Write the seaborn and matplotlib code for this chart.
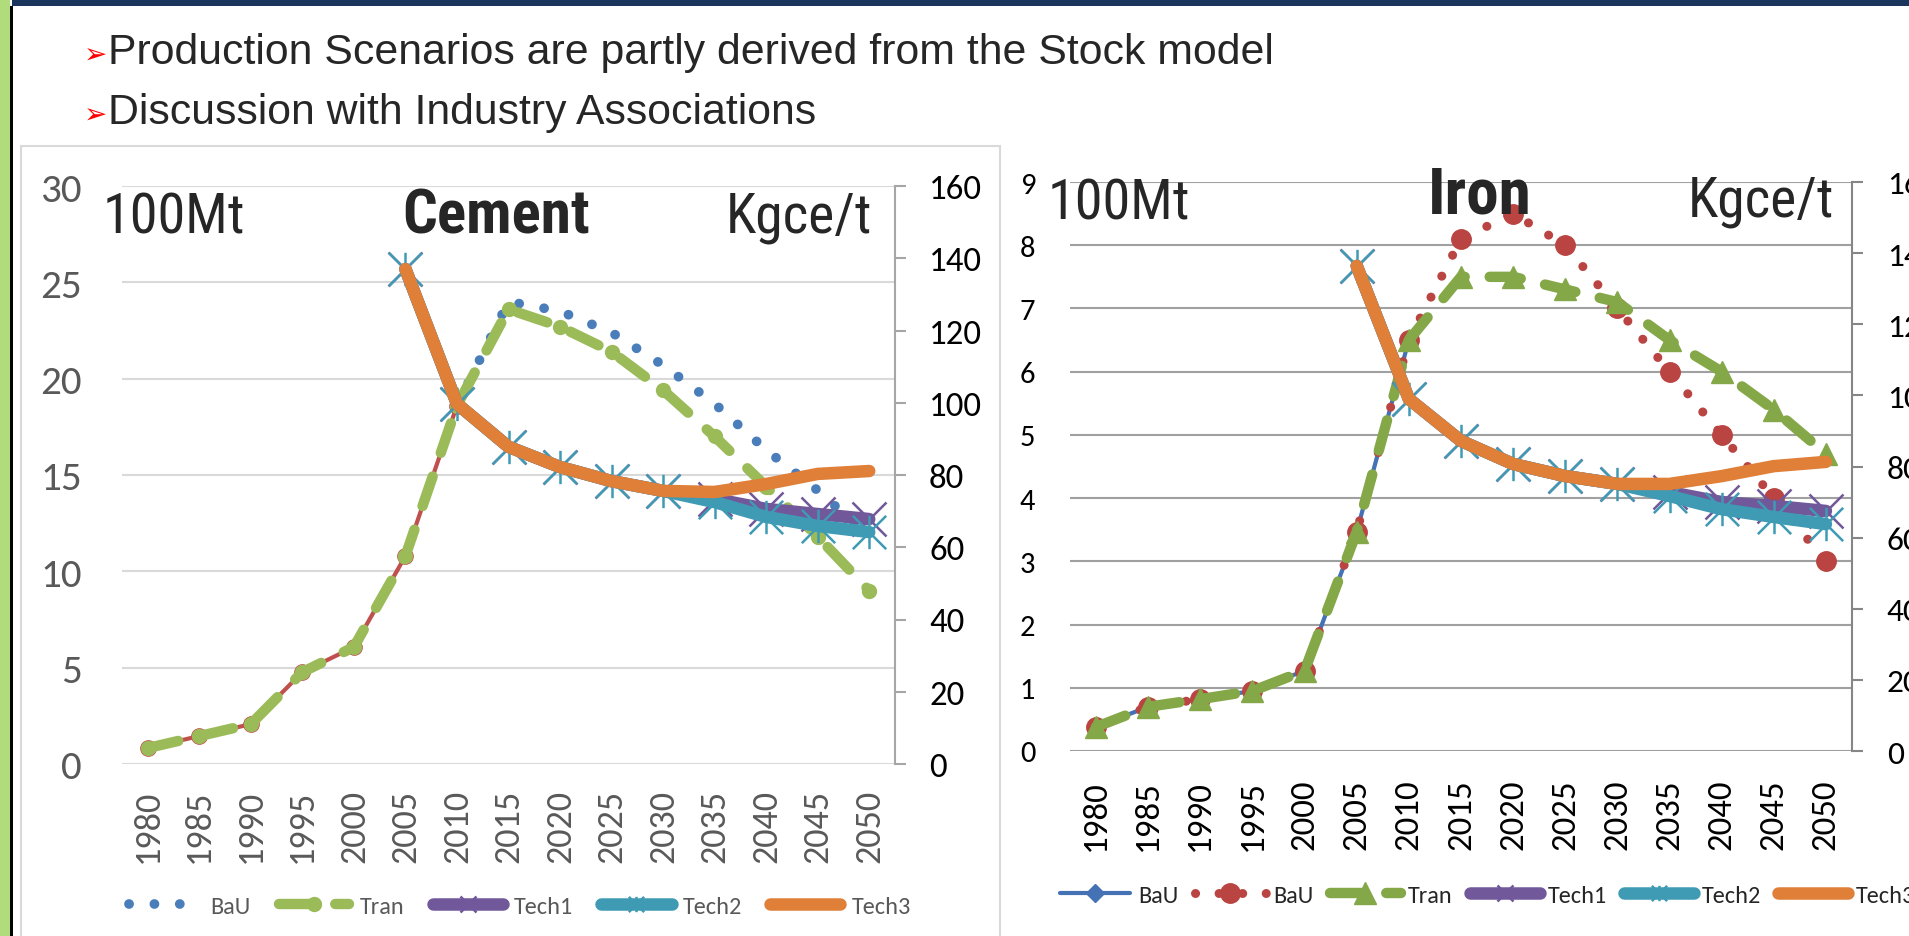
import numpy as np
import matplotlib.pyplot as plt
import seaborn as sns
from matplotlib.patches import Rectangle
from matplotlib.path import Path

# ---------- data ----------
years = [1980, 1985, 1990, 1995, 2000, 2005, 2010, 2015, 2020, 2025, 2030, 2035, 2040, 2045, 2050]
nan = np.nan

# Cement production (100Mt)
cement_hist = [0.83, 1.45, 2.07, 4.77, 6.07, 10.8, 18.6, nan, nan, nan, nan, nan, nan, nan, nan]
cement_bau = [nan, nan, nan, nan, nan, nan, 18.6, 24.0, 23.5, 22.4, 20.7, 18.7, 16.3, 14.2, 11.8]
cement_tran = [0.83, 1.45, 2.07, 4.77, 6.07, 10.8, 18.6, 23.6, 22.7, 21.4, 19.4, 17.0, 14.4, 11.8, 9.0]
# Cement energy intensity (Kgce/t)
cement_tech1 = [nan] * 5 + [137, 99.7, 87.8, 82.2, 78.3, 75.6, 73.4, 70.6, 69.2, 67.8]
cement_tech2 = [nan] * 5 + [137, 99.7, 87.8, 82.2, 78.3, 75.6, 72.5, 68.4, 65.9, 64.2]
cement_tech3 = [nan] * 5 + [137, 99.7, 87.8, 82.2, 78.3, 75.6, 75.3, 77.5, 80.3, 81.1]

# Iron production (100Mt)
iron_hist = [0.38, 0.70, 0.82, 0.95, 1.27, 3.47, 6.5, nan, nan, nan, nan, nan, nan, nan, nan]
iron_bau = [0.38, 0.70, 0.82, 0.95, 1.27, 3.47, 6.5, 8.1, 8.5, 8.0, 7.0, 6.0, 5.0, 4.0, 3.0]
iron_tran = [0.38, 0.70, 0.82, 0.95, 1.27, 3.47, 6.5, 7.5, 7.5, 7.3, 7.1, 6.5, 6.0, 5.4, 4.7]
# Iron energy intensity (Kgce/t)
iron_tech1 = [nan] * 5 + [136.4, 99.0, 87.2, 80.7, 77.3, 75.1, 72.8, 70.0, 68.9, 67.5]
iron_tech2 = [nan] * 5 + [136.4, 99.0, 87.2, 80.7, 77.3, 75.1, 71.7, 68.0, 65.8, 63.8]
iron_tech3 = [nan] * 5 + [136.4, 99.0, 87.2, 80.7, 77.3, 75.1, 75.1, 77.3, 80.1, 81.3]

bullets = ["Production Scenarios are partly derived from the Stock model",
           "Discussion with Industry Associations"]

# ---------- style ----------
sns.set_theme(style="white")
plt.rcParams["font.family"] = ["Carlito", "DejaVu Sans"]
HEAD = ["Roboto Condensed", "DejaVu Sans"]

BLUE, GREEN, RED = "#4a7ebb", "#9bbb59", "#c0504d"
PURPLE, TEAL, ORANGE = "#71589a", "#3f9ab4", "#e07f38"
IBLUE, IRED, IGREEN = "#4472b4", "#b94441", "#84a848"

# Excel-like "star" marker: an x with a vertical bar
star = Path([(-1, -1), (1, 1), (-1, 1), (1, -1), (0, -1), (0, 1)],
            [Path.MOVETO, Path.LINETO] * 3)

W, H = 1909, 937
fig = plt.figure(figsize=(W / 100, H / 100), dpi=100)


def fx(px):
    return px / W


def fy(py):
    return 1 - py / H


def box(x0, y0, x1, y1):
    return [fx(x0), fy(y1), (x1 - x0) / W, (y1 - y0) / H]


def draw(ax, y, **kw):
    sns.lineplot(x=years, y=y, ax=ax, estimator=None, sort=False, **kw)
    return ax.lines[-1]


# slide decoration
fig.add_artist(Rectangle((0, 0), fx(10), 1, transform=fig.transFigure, color="#b0dc7c", lw=0))
fig.add_artist(Rectangle((fx(10), 0), 3 / W, fy(7), transform=fig.transFigure, color="black", lw=0))
fig.add_artist(Rectangle((fx(12), fy(7)), 1, 7 / H, transform=fig.transFigure, color="#1b365d", lw=0))
fig.add_artist(Rectangle((fx(21), fy(940)), (1000 - 21) / W, (940 - 147) / H,
                         transform=fig.transFigure, fill=False, ec="#d9d9d9", lw=1.5))

for i, txt in enumerate(bullets):
    base = fy(64 + 60 * i)
    fig.text(fx(84), base, "\u27a2", color="#ff0000", fontsize=20, family="DejaVu Sans", va="baseline")
    fig.text(fx(108), base, txt, fontsize=30.8, family="Liberation Sans", va="baseline")


def style_axes(ax, axr, ymax, ystep, rmax, grid_col, tick_col, ylab_size, ylab_pad,
               xlab_size, xpad, rlab_size, rpad, spine_col):
    ax.set_xlim(1977.5, 2052.5)
    ax.set_ylim(0, ymax)
    ax.set_yticks(np.arange(0, ymax + 0.1, ystep))
    ax.set_xticks(years)
    ax.set_xticklabels([str(y) for y in years], rotation=90, fontsize=xlab_size, color=tick_col)
    ax.tick_params(axis="x", length=0, pad=xpad)
    ax.tick_params(axis="y", length=0, pad=ylab_pad, labelsize=ylab_size, labelcolor=tick_col)
    ax.grid(axis="y", color=grid_col, lw=1.5)
    ax.grid(axis="x", visible=False)
    ax.set_axisbelow(True)
    ax.patch.set_alpha(0)
    for s in ax.spines.values():
        s.set_visible(False)
    axr.set_ylim(0, rmax)
    axr.set_yticks(np.arange(0, rmax + 1, 20))
    for s in ["top", "left", "bottom"]:
        axr.spines[s].set_visible(False)
    axr.spines["right"].set_color(spine_col)
    axr.spines["right"].set_linewidth(1.5)
    axr.tick_params(axis="y", direction="out", length=8, width=1.5, color=spine_col,
                    pad=rpad, labelsize=rlab_size, labelcolor="black", right=True)
    axr.grid(False)
    ax.set_xlabel("")
    ax.set_ylabel("")
    axr.set_ylabel("")


def shrink_tech_markers(leg, labels):
    for h, lab in zip(leg.legend_handles, labels):
        if lab in ("Tech1", "Tech2"):
            h.set_markersize(11)


# ---------- Cement ----------
ax1 = fig.add_axes(box(122, 187, 895, 765))
ax1r = ax1.twinx()
draw(ax1, cement_hist, color=RED, lw=3, marker="o", ms=11, mfc=RED, mec=RED, mew=1)
c_bau = draw(ax1, cement_bau, color=BLUE, lw=7, linestyle=(0, (0.01, 2.6)), dash_capstyle="round")
c_tran = draw(ax1, cement_tran, color=GREEN, lw=7.5, linestyle=(0, (3, 2.4)), dash_capstyle="round",
              marker="o", ms=10, mfc=GREEN, mec=GREEN, mew=1)
c_t1 = draw(ax1r, cement_tech1, color=PURPLE, lw=9, marker="x", ms=24, mec=PURPLE, mew=1.8,
            solid_capstyle="round")
c_t2 = draw(ax1r, cement_tech2, color=TEAL, lw=9, marker=star, ms=24, mec=TEAL, mew=1.8,
            solid_capstyle="round")
c_t3 = draw(ax1r, cement_tech3, color=ORANGE, lw=9, solid_capstyle="round")
style_axes(ax1, ax1r, 30, 5, 160, "#d9d9d9", "#595959", 29.5, 29, 26, 18, 25, 16.5, "#a6a6a6")

c_labels = ["BaU", "Tran", "Tech1", "Tech2", "Tech3"]
leg1 = fig.legend([c_bau, c_tran, c_t1, c_t2, c_t3], c_labels,
                  loc="center left", bbox_to_anchor=(fx(129), fy(907)), ncol=5, frameon=False,
                  fontsize=17.5, labelcolor="#595959", handlelength=2.9, handletextpad=0.45,
                  columnspacing=1.15, borderpad=0, borderaxespad=0)
shrink_tech_markers(leg1, c_labels)

fig.text(fx(103), fy(233), "100Mt", fontsize=40.5, family=HEAD, va="baseline")
fig.text(fx(402), fy(233), "Cement", fontsize=44, family=HEAD, weight="bold", va="baseline")
fig.text(fx(726), fy(233), "Kgce/t", fontsize=40, family=HEAD, va="baseline")

# ---------- Iron ----------
ax2 = fig.add_axes(box(1070, 183, 1852, 752))
ax2r = ax2.twinx()
i_hist = draw(ax2, iron_hist, color=IBLUE, lw=3, marker="D", ms=9, mfc=IBLUE, mec=IBLUE, mew=1)
i_bau = draw(ax2, iron_bau, color=IRED, lw=6.5, linestyle=(0, (0.01, 2.6)), dash_capstyle="round",
             marker="o", ms=14, mfc=IRED, mec=IRED, mew=1)
i_tran = draw(ax2, iron_tran, color=IGREEN, lw=7.5, linestyle=(0, (3, 2.4)), dash_capstyle="round",
              marker="^", ms=16, mfc=IGREEN, mec=IGREEN, mew=1)
i_t1 = draw(ax2r, iron_tech1, color=PURPLE, lw=9, marker="x", ms=24, mec=PURPLE, mew=1.8,
            solid_capstyle="round")
i_t2 = draw(ax2r, iron_tech2, color=TEAL, lw=9, marker=star, ms=24, mec=TEAL, mew=1.8,
            solid_capstyle="round")
i_t3 = draw(ax2r, iron_tech3, color=ORANGE, lw=9, solid_capstyle="round")
style_axes(ax2, ax2r, 9, 1, 160, "#a0a0a0", "black", 22, 25, 25, 20, 24, 17, "#868686")

i_labels = ["BaU", "BaU", "Tran", "Tech1", "Tech2", "Tech3"]
leg2 = fig.legend([i_hist, i_bau, i_tran, i_t1, i_t2, i_t3], i_labels,
                  loc="center left", bbox_to_anchor=(fx(1060), fy(896)), ncol=6, frameon=False,
                  fontsize=17.5, labelcolor="#262626", handlelength=2.9, handletextpad=0.3,
                  columnspacing=0.7, borderpad=0, borderaxespad=0)
shrink_tech_markers(leg2, i_labels)

fig.text(fx(1048), fy(220), "100Mt", fontsize=40.5, family=HEAD, va="baseline")
fig.text(fx(1428), fy(213), "Iron", fontsize=47, family=HEAD, weight="bold", va="baseline")
fig.text(fx(1688), fy(217), "Kgce/t", fontsize=40, family=HEAD, va="baseline")

fig.savefig("out.png", dpi=100)
